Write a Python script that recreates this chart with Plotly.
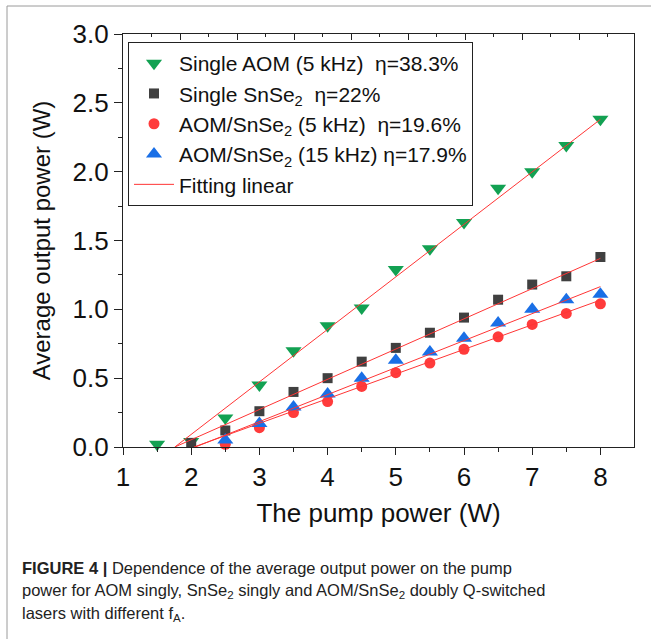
import plotly.graph_objects as go

# ---------------- data ----------------
pump_aom = [1.5, 2, 2.5, 3, 3.5, 4, 4.5, 5, 5.5, 6, 6.5, 7, 7.5, 8]
out_aom = [0.02, 0.04, 0.21, 0.45, 0.70, 0.88, 1.01, 1.29, 1.44, 1.63, 1.88, 2.00, 2.19, 2.38]

pump_snse2 = [2, 2.5, 3, 3.5, 4, 4.5, 5, 5.5, 6, 6.5, 7, 7.5, 8]
out_snse2 = [0.03, 0.12, 0.26, 0.40, 0.50, 0.62, 0.72, 0.83, 0.94, 1.07, 1.18, 1.24, 1.38]

pump_dual5 = [2.5, 3, 3.5, 4, 4.5, 5, 5.5, 6, 6.5, 7, 7.5, 8]
out_dual5 = [0.02, 0.14, 0.25, 0.33, 0.44, 0.54, 0.61, 0.71, 0.80, 0.89, 0.97, 1.04]

pump_dual15 = [2.5, 3, 3.5, 4, 4.5, 5, 5.5, 6, 6.5, 7, 7.5, 8]
out_dual15 = [0.05, 0.17, 0.29, 0.385, 0.50, 0.63, 0.69, 0.79, 0.90, 1.00, 1.07, 1.11]

# linear-fit segments (start x at zero output, end x / end y)
fit_x_start = [1.76, 1.76, 2.04, 2.06]
fit_x_end = [8, 8, 8, 8]
fit_y_end = [2.38, 1.37, 1.067, 1.165]

series_names = [
    "Single AOM (5 kHz)  η=38.3%",
    "Single SnSe<sub>2</sub>  η=22%",
    "AOM/SnSe<sub>2</sub> (5 kHz)  η=19.6%",
    "AOM/SnSe<sub>2</sub> (15 kHz) η=17.9%",
]
fit_name = "Fitting linear"

x_title = "The pump power (W)"
y_title = "Average output power (W)"

caption_lines = [
    "<b>FIGURE 4 |</b> Dependence of the average output power on the pump",
    "power for AOM singly, SnSe<sub>2</sub> singly and AOM/SnSe<sub>2</sub> doubly Q-switched",
    "lasers with different f<sub>A</sub>.",
]

# ---------------- styling ----------------
W, H = 651, 639
L, R, T, B = 123, 17, 34, 192
pw, ph = W - L - R, H - T - B

def px_x(p):
    return (p - L) / pw

def px_y(p):
    return (H - B - p) / ph

FONT = "Liberation Sans, Arial, sans-serif"
FIT_COLOR = "#ff3535"
AX = "#222222"

fig = go.Figure()

marker_specs = [
    (pump_aom, out_aom, "triangle-down", "#12a152", 14),
    (pump_snse2, out_snse2, "square", "#404040", 10),
    (pump_dual5, out_dual5, "circle", "#ff3b3b", 11),
    (pump_dual15, out_dual15, "triangle-up", "#1a6fe6", 14),
]

for (xs, ys, sym, col, sz), name in zip(marker_specs, series_names):
    fig.add_trace(go.Scatter(
        x=xs, y=ys, mode="markers", name=name,
        marker=dict(symbol=sym, color=col, size=sz, line=dict(width=0)),
        cliponaxis=False,
    ))

for i in range(len(fit_x_start)):
    fig.add_trace(go.Scatter(
        x=[fit_x_start[i], fit_x_end[i]], y=[0, fit_y_end[i]],
        mode="lines", name=fit_name, showlegend=(i == 0),
        line=dict(color=FIT_COLOR, width=1),
    ))

# invisible trace to activate the top tick axis
fig.add_trace(go.Scatter(x=[None], y=[None], xaxis="x2", yaxis="y",
                         showlegend=False, hoverinfo="skip"))

x_max = 1 + pw / 68.2
fig.update_layout(
    width=W, height=H,
    margin=dict(l=L, r=R, t=T, b=B, pad=0),
    paper_bgcolor="white", plot_bgcolor="white",
    font=dict(family=FONT, color="#111111"),
    showlegend=True,
    legend=dict(
        x=px_x(128), y=px_y(42), xanchor="left", yanchor="top",
        bordercolor=AX, borderwidth=1, bgcolor="white",
        font=dict(size=21, family=FONT, color="#111111"),
        tracegroupgap=0, itemwidth=40,
    ),
    xaxis=dict(
        range=[1, x_max], dtick=1, tick0=1,
        showgrid=False, zeroline=False,
        showline=True, linecolor=AX, linewidth=1.2, mirror=True,
        ticks="outside", ticklen=7, tickwidth=1.2, tickcolor=AX,
        minor=dict(dtick=0.5, ticks="outside", ticklen=4, tickwidth=1.2, tickcolor=AX),
        tickfont=dict(size=26, family=FONT, color="#111111"),
        title=dict(text=x_title, font=dict(size=26, family=FONT, color="#111111"), standoff=12),
        automargin=False,
    ),
    xaxis2=dict(
        overlaying="x", side="top", range=[0, pw / 57.0], dtick=1, tick0=0,
        showgrid=False, zeroline=False, showline=False, showticklabels=False,
        ticks="inside", ticklen=6, tickwidth=1.2, tickcolor=AX,
        minor=dict(dtick=0.5, ticks="inside", ticklen=3, tickwidth=1.2, tickcolor=AX),
        automargin=False,
    ),
    yaxis=dict(
        range=[0, 3.0], dtick=0.5, tick0=0, tickformat=".1f",
        showgrid=False, zeroline=False,
        showline=True, linecolor=AX, linewidth=1.2, mirror=True,
        ticks="outside", ticklen=8, tickwidth=1.2, tickcolor=AX,
        minor=dict(dtick=0.25, ticks="outside", ticklen=4, tickwidth=1.2, tickcolor=AX),
        tickfont=dict(size=26, family=FONT, color="#111111"),
        title=dict(text=y_title, font=dict(size=24, family=FONT, color="#111111"), standoff=15),
        automargin=False,
    ),
)

# figure frame (grey) at top and left
frame_col = "#9a9a9a"
fig.add_shape(type="line", xref="paper", yref="paper",
              x0=px_x(7), x1=px_x(W + 5), y0=px_y(6), y1=px_y(6),
              line=dict(color=frame_col, width=1))
fig.add_shape(type="line", xref="paper", yref="paper",
              x0=px_x(7), x1=px_x(7), y0=px_y(6), y1=px_y(H + 5),
              line=dict(color=frame_col, width=1))

caption_y = [568, 591, 614]
for txt, yy in zip(caption_lines, caption_y):
    fig.add_annotation(
        text=txt, xref="paper", yref="paper", x=px_x(20), y=px_y(yy),
        xanchor="left", yanchor="middle", showarrow=False, align="left",
        font=dict(size=16.5, family=FONT, color="#222222"),
    )

fig.write_html("out.html",
               config={"displayModeBar": False},
               post_script="document.body.style.margin='0';document.body.style.overflow='hidden';")
